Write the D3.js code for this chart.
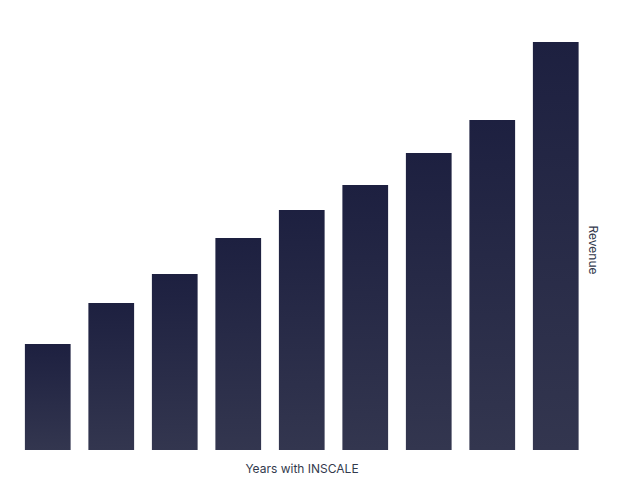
<!DOCTYPE html>
<html>
<head>
<meta charset="utf-8">
<script src="https://cdn.jsdelivr.net/npm/d3@7"></script>
<style>
  html, body { margin: 0; padding: 0; background: #ffffff; }
  svg { display: block; font-family: Inter, "Noto Sans", sans-serif; }
</style>
</head>
<body>
<svg id="chart" width="628" height="500"></svg>
<script>
const categories = ["Year 1", "Year 2", "Year 3", "Year 4", "Year 5", "Year 6", "Year 7", "Year 8", "Year 9"];
const revenue = [106, 147, 176, 212, 240, 265, 297, 330, 408];
const xTitle = "Years with INSCALE";
const yTitle = "Revenue";

const svg = d3.select("#chart");
const baseY = 450, topY = 42;

const x = d3.scaleBand().domain(categories).range([16, 587.5])
  .paddingInner(0.28).paddingOuter(0.14);
const y = d3.scaleLinear().domain([0, d3.max(revenue)]).range([baseY, topY]);

const defs = svg.append("defs");
const grad = defs.append("linearGradient").attr("id", "barGrad")
  .attr("x1", 0).attr("y1", 0).attr("x2", 0).attr("y2", 1);
grad.append("stop").attr("offset", "0%").attr("stop-color", "#1d2040");
grad.append("stop").attr("offset", "100%").attr("stop-color", "#33364f");

const data = categories.map((c, i) => ({ c, v: revenue[i] }));

svg.append("g").selectAll("rect").data(data).join("rect")
  .attr("x", d => x(d.c))
  .attr("y", d => y(d.v))
  .attr("width", x.bandwidth())
  .attr("height", d => baseY - y(d.v))
  .attr("fill", "url(#barGrad)");

svg.append("text")
  .attr("x", 302).attr("y", 473)
  .attr("text-anchor", "middle")
  .attr("font-size", 12)
  .attr("fill", "#333a4d")
  .text(xTitle);

svg.append("text")
  .attr("transform", "translate(589,250) rotate(90)")
  .attr("text-anchor", "middle")
  .attr("font-size", 12)
  .attr("fill", "#333a4d")
  .text(yTitle);
</script>
</body>
</html>
